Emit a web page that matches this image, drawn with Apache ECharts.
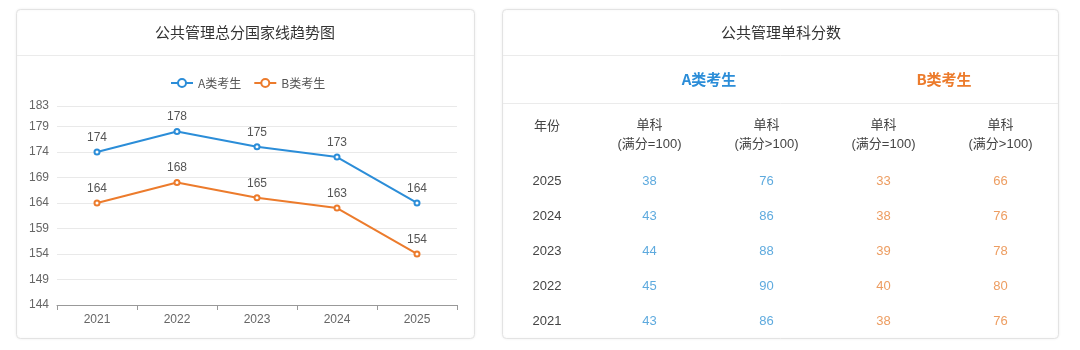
<!DOCTYPE html>
<html>
<head>
<meta charset="utf-8">
<script src="https://cdn.jsdelivr.net/npm/echarts@6/dist/echarts.min.js"></script>
<style>
html,body{margin:0;padding:0;background:#fff;}
#main{width:1080px;height:350px;}
</style>
</head>
<body>
<div id="main"></div>
<script>
// ---- data ----
var years = ['2021', '2022', '2023', '2024', '2025'];
var totalA = [174, 178, 175, 173, 164];
var totalB = [164, 168, 165, 163, 154];
var yTickMin = 144, yTickMax = 183, yTickStep = 5;

var tableYears = ['2025', '2024', '2023', '2022', '2021'];
var tableCols = ['单科\n(满分=100)', '单科\n(满分>100)', '单科\n(满分=100)', '单科\n(满分>100)'];
var singleA100 = [38, 43, 44, 45, 43];
var singleAOver = [76, 86, 88, 90, 86];
var singleB100 = [33, 38, 39, 40, 38];
var singleBOver = [66, 76, 78, 80, 76];

var BLUE = '#2b8dd8', ORANGE = '#ec7b2c';
var TBLUE = '#3695d6', TORANGE = '#e8843a';
var FONT = '"Liberation Sans", "Noto Sans CJK SC", sans-serif';

function cells(colIdx, arr) {
  return arr.map(function (v, i) { return [colIdx, i, v]; });
}

var chart = echarts.init(document.getElementById('main'), null, {renderer: 'canvas'});
var option = {
  backgroundColor: '#fff',
  animation: false,
  textStyle: {fontFamily: FONT},
  graphic: [
    {type: 'rect', shape: {x: 16.5, y: 9.5, width: 458, height: 329, r: 4}, style: {fill: '#fff', stroke: '#e3e3e3', lineWidth: 1, shadowBlur: 3, shadowColor: 'rgba(0,0,0,0.06)'}, z: -10},
    {type: 'rect', shape: {x: 502.5, y: 9.5, width: 556, height: 329, r: 4}, style: {fill: '#fff', stroke: '#e3e3e3', lineWidth: 1, shadowBlur: 3, shadowColor: 'rgba(0,0,0,0.06)'}, z: -10},
    {type: 'line', shape: {x1: 17, y1: 55.5, x2: 474, y2: 55.5}, style: {stroke: '#ebebeb', lineWidth: 1}, z: -5},
    {type: 'line', shape: {x1: 503, y1: 55.5, x2: 1058, y2: 55.5}, style: {stroke: '#ebebeb', lineWidth: 1}, z: -5},
    {type: 'line', shape: {x1: 503, y1: 103.5, x2: 1058, y2: 103.5}, style: {stroke: '#ebebeb', lineWidth: 1}, z: -5},
    {type: 'text', x: 245, y: 32, style: {text: '公共管理总分国家线趋势图', fill: '#333', font: '15px "Noto Sans CJK SC", sans-serif', textAlign: 'center', textVerticalAlign: 'middle', align: 'center', verticalAlign: 'middle'}},
    {type: 'text', x: 781, y: 32, style: {text: '公共管理单科分数', fill: '#333', font: '15px "Noto Sans CJK SC", sans-serif', textAlign: 'center', textVerticalAlign: 'middle', align: 'center', verticalAlign: 'middle'}},
    {type: 'text', x: 709, y: 79, style: {text: 'A类考生', fill: BLUE, font: 'bold 15px "Noto Sans CJK SC", sans-serif', textAlign: 'center', textVerticalAlign: 'middle', align: 'center', verticalAlign: 'middle'}},
    {type: 'text', x: 944, y: 79, style: {text: 'B类考生', fill: ORANGE, font: 'bold 15px "Noto Sans CJK SC", sans-serif', textAlign: 'center', textVerticalAlign: 'middle', align: 'center', verticalAlign: 'middle'}},
    {type: 'text', x: 547, y: 125, style: {text: '年份', fill: '#444', font: '13px "Noto Sans CJK SC", sans-serif', textAlign: 'center', textVerticalAlign: 'middle', align: 'center', verticalAlign: 'middle'}}
  ],
  legend: {
    top: 72, left: 245 - 80, width: 160,
    itemWidth: 22, itemHeight: 10, itemGap: 12,
    textStyle: {color: '#555', fontSize: 12, fontFamily: '"Noto Sans CJK SC", sans-serif'},
    data: ['A类考生', 'B类考生']
  },
  grid: [
    {left: 57, top: 106, width: 400, height: 199, containLabel: false},
    {left: 591, top: 163.5, width: 468, height: 175, containLabel: false}
  ],
  xAxis: [
    {
      gridIndex: 0, type: 'category', data: years, boundaryGap: true,
      axisLine: {lineStyle: {color: '#999'}},
      axisTick: {show: true, length: 5, lineStyle: {color: '#999'}},
      axisLabel: {color: '#666', fontSize: 12, margin: 9}
    },
    {
      gridIndex: 1, type: 'category', data: tableCols, position: 'top',
      axisLine: {show: false}, axisTick: {show: false}, splitLine: {show: false},
      axisLabel: {color: '#444', fontSize: 13, lineHeight: 19, margin: 10, interval: 0, fontFamily: FONT}
    }
  ],
  yAxis: [
    {
      gridIndex: 0, type: 'value', min: yTickMin, max: yTickMax, interval: yTickStep,
      axisLine: {show: false}, axisTick: {show: false},
      splitLine: {lineStyle: {color: '#e9e9e9'}},
      axisLabel: {color: '#666', fontSize: 12, margin: 8}
    },
    {
      gridIndex: 1, type: 'category', data: tableYears, inverse: true,
      axisLine: {show: false}, axisTick: {show: false}, splitLine: {show: false},
      axisLabel: {color: '#444', fontSize: 13, align: 'center', margin: 44, interval: 0}
    }
  ],
  series: [
    {
      name: 'A类考生', type: 'line', xAxisIndex: 0, yAxisIndex: 0, data: totalA,
      color: BLUE, symbol: 'emptyCircle', symbolSize: 5,
      lineStyle: {width: 2, color: BLUE}, itemStyle: {color: BLUE, borderWidth: 1.5},
      label: {show: true, position: 'top', color: '#555', fontSize: 12, distance: 5}
    },
    {
      name: 'B类考生', type: 'line', xAxisIndex: 0, yAxisIndex: 0, data: totalB,
      color: ORANGE, symbol: 'emptyCircle', symbolSize: 5,
      lineStyle: {width: 2, color: ORANGE}, itemStyle: {color: ORANGE, borderWidth: 1.5},
      label: {show: true, position: 'top', color: '#555', fontSize: 12, distance: 5}
    },
    {
      type: 'scatter', xAxisIndex: 1, yAxisIndex: 1, symbolSize: 1,
      itemStyle: {color: 'transparent'},
      data: cells(0, singleA100).concat(cells(1, singleAOver)),
      label: {show: true, position: 'inside', color: TBLUE, fontSize: 13, formatter: function (p) { return p.value[2]; }}
    },
    {
      type: 'scatter', xAxisIndex: 1, yAxisIndex: 1, symbolSize: 1,
      itemStyle: {color: 'transparent'},
      data: cells(2, singleB100).concat(cells(3, singleBOver)),
      label: {show: true, position: 'inside', color: TORANGE, fontSize: 13, formatter: function (p) { return p.value[2]; }}
    }
  ]
};
chart.setOption(option);
</script>
</body>
</html>
